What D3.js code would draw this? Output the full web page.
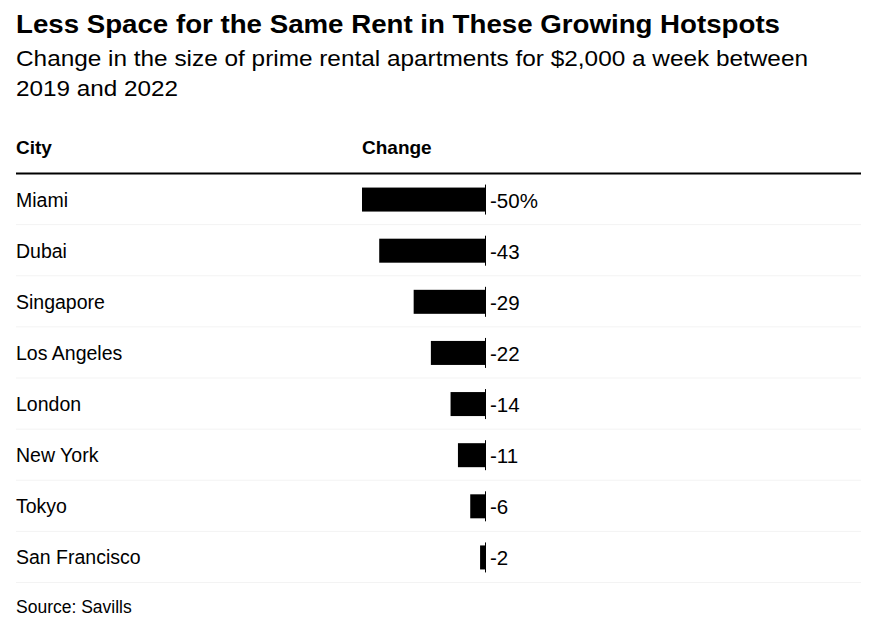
<!DOCTYPE html>
<html><head><meta charset="utf-8">
<script src="https://cdn.jsdelivr.net/npm/d3@7"></script>
<style>body{margin:0;background:#fff;} svg{display:block;font-family:"Liberation Sans",Arial,sans-serif;}</style>
</head><body>
<svg id="c" width="871" height="627"></svg>
<script>
const cities = ["Miami","Dubai","Singapore","Los Angeles","London","New York","Tokyo","San Francisco"];
const changes = [-50,-43,-29,-22,-14,-11,-6,-2];
const valueLabels = ["-50%","-43","-29","-22","-14","-11","-6","-2"];
const title = "Less Space for the Same Rent in These Growing Hotspots";
const subtitle = ["Change in the size of prime rental apartments for $2,000 a week between","2019 and 2022"];
const source = "Source: Savills";

const svg = d3.select("#c");
svg.append("text").attr("x",16).attr("y",33).attr("font-size",26).attr("font-weight","bold")
  .attr("textLength",764).attr("lengthAdjust","spacingAndGlyphs").attr("fill","#000").text(title);
svg.append("text").attr("x",16).attr("y",66).attr("font-size",22).attr("fill","#000")
  .attr("textLength",792).attr("lengthAdjust","spacingAndGlyphs").text(subtitle[0]);
svg.append("text").attr("x",16).attr("y",96).attr("font-size",22).attr("fill","#000")
  .attr("textLength",162).attr("lengthAdjust","spacingAndGlyphs").text(subtitle[1]);

svg.append("text").attr("x",16).attr("y",154).attr("font-size",19).attr("font-weight","bold").text("City");
svg.append("text").attr("x",362).attr("y",154).attr("font-size",19).attr("font-weight","bold").text("Change");
svg.append("line").attr("x1",16).attr("x2",861).attr("y1",173.5).attr("y2",173.5).attr("stroke","#000").attr("stroke-width",2);

const y = d3.scaleBand().domain(cities).range([174,583]);
const x = d3.scaleLinear().domain([-50,0]).range([362,485]);

const rows = svg.append("g").selectAll("g").data(cities).join("g")
  .attr("transform",d=>`translate(0,${y(d)})`);
rows.append("line").attr("x1",16).attr("x2",861)
  .attr("y1",y.bandwidth()-0.5).attr("y2",y.bandwidth()-0.5)
  .attr("stroke","#f3f3f3").attr("stroke-width",1);
rows.append("text").attr("x",16).attr("y",y.bandwidth()/2+7).attr("font-size",19.5).attr("fill","#000").text(d=>d);
rows.append("rect")
  .attr("x",(d,i)=>x(changes[i])).attr("width",(d,i)=>x(0)-x(changes[i]))
  .attr("y",y.bandwidth()/2-12).attr("height",24).attr("fill","#000");
rows.append("line").attr("x1",x(0)+0.5).attr("x2",x(0)+0.5)
  .attr("y1",y.bandwidth()/2-15).attr("y2",y.bandwidth()/2+15).attr("stroke","#000").attr("stroke-width",1);
rows.append("text").attr("x",x(0)+5).attr("y",y.bandwidth()/2+8).attr("font-size",20.5).attr("fill","#000")
  .text((d,i)=>valueLabels[i]);

svg.append("text").attr("x",16).attr("y",613).attr("font-size",17.5).attr("fill","#000").text(source);
</script>
</body></html>
